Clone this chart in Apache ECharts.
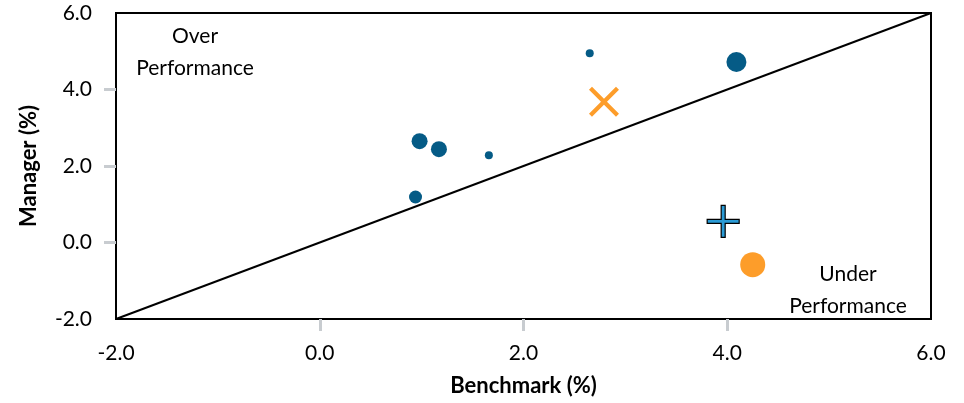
<!DOCTYPE html>
<html><head><meta charset="utf-8">
<script src="https://cdn.jsdelivr.net/npm/echarts@6/dist/echarts.min.js"></script>
<style>html,body{margin:0;padding:0;background:#fff}#c{width:964px;height:403px}</style>
</head><body><div id="c"></div>
<script>
// Data
const axisTicks = [-2, 0, 2, 4, 6];
const innerTicks = [0, 2, 4];
const managersX = [0.94, 0.98, 1.17, 1.66, 2.65, 4.09];
const managersY = [1.19, 2.65, 2.44, 2.28, 4.95, 4.72];
const managersWeight = [3, 4, 4, 1, 1, 5];
const orangeCircle = [[4.25, -0.58]];
const orangeCross = [[2.79, 3.68]];
const bluePlus = [[3.96, 0.55]];
const diagonal = [[-2, -2], [6, 6]];

const FONT = 'Lato, "Open Sans", sans-serif';
const chart = echarts.init(document.getElementById('c'));
const sizeOf = [0, 8, 10, 13, 16, 20];
const plusPath = 'path://M14,0 H18 V14 H32 V18 H18 V32 H14 V18 H0 V14 H14 Z';
const xPath = 'path://M0,3 L3,0 L15,12 L27,0 L30,3 L18,15 L30,27 L27,30 L15,18 L3,30 L0,27 L12,15 Z';
const txt = (id, x, y, t) => ({ type: 'text', id, x, y, style: { text: t, fontFamily: FONT, fontSize: 21, fill: '#000', align: 'center', verticalAlign: 'middle' } });

chart.setOption({
  animation: false,
  grid: { left: 116, top: 13, width: 815, height: 306, show: true, borderColor: '#000', borderWidth: 2, backgroundColor: 'transparent' },
  xAxis: {
    type: 'value', min: -2, max: 6, interval: 2,
    name: 'Benchmark (%)', nameLocation: 'middle', nameGap: 56,
    nameTextStyle: { fontFamily: FONT, fontWeight: 'bold', fontSize: 22, color: '#000' },
    axisLine: { show: false, onZero: false },
    splitLine: { show: false },
    axisTick: { show: true, length: 12, inside: false, customValues: innerTicks, lineStyle: { color: '#c8ccd0', width: 3 } },
    axisLabel: { margin: 24, fontFamily: FONT, fontSize: 21, color: '#000', formatter: v => v.toFixed(1) }
  },
  yAxis: {
    type: 'value', min: -2, max: 6, interval: 2,
    name: 'Manager (%)', nameLocation: 'middle', nameGap: 76,
    nameTextStyle: { fontFamily: FONT, fontWeight: 'bold', fontSize: 22, color: '#000' },
    axisLine: { show: false, onZero: false },
    splitLine: { show: false },
    axisTick: { show: true, length: 12, inside: false, customValues: innerTicks, lineStyle: { color: '#c8ccd0', width: 3 } },
    axisLabel: { margin: 24, fontFamily: FONT, fontSize: 21, color: '#000', formatter: v => v.toFixed(1) }
  },
  graphic: [
    txt('o1', 195, 36, 'Over'),
    txt('o2', 195, 68, 'Performance'),
    txt('u1', 848, 274, 'Under'),
    txt('u2', 848, 306, 'Performance')
  ],
  series: [
    { type: 'line', data: diagonal, symbol: 'none', lineStyle: { color: '#000', width: 2 }, z: 1 },
    { type: 'scatter', data: managersX.map((x, i) => [x, managersY[i], managersWeight[i]]),
      symbolSize: d => sizeOf[d[2]], itemStyle: { color: '#055b86', opacity: 1 }, z: 3 },
    { type: 'scatter', data: orangeCircle, symbolSize: 25, itemStyle: { color: '#fd9d2a', opacity: 1 }, z: 3 },
    { type: 'scatter', data: orangeCross, symbol: xPath, symbolSize: 30, itemStyle: { color: '#fd9d2a', opacity: 1 }, z: 3 },
    { type: 'scatter', data: bluePlus, symbol: plusPath, symbolSize: 32, itemStyle: { color: '#2a9bd6', borderColor: '#000', borderWidth: 1.2, opacity: 1 }, z: 4 }
  ]
});
</script></body></html>
